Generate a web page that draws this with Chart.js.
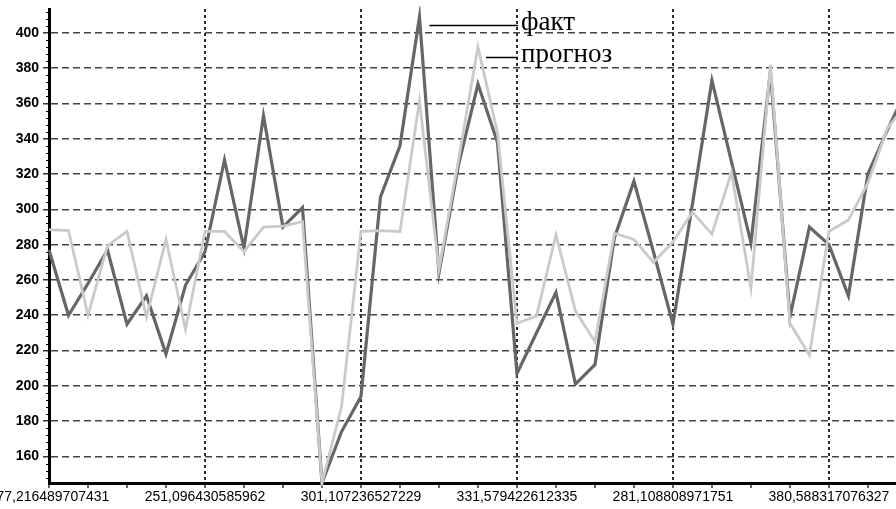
<!DOCTYPE html>
<html>
<head>
<meta charset="utf-8">
<script src="https://cdn.jsdelivr.net/npm/chart.js@4.4.1/dist/chart.umd.min.js"></script>
<style>
  html, body { margin: 0; padding: 0; background: #fff; }
  canvas { display: block; }
</style>
</head>
<body>
<canvas id="chart" width="896" height="509"></canvas>
<script>
// Observed values (факт) and model output (прогноз), one value per step
const fact = [
  277, 240, 258, 277, 235, 251, 218, 257, 276, 328,
  278, 353, 290, 301, 145, 174, 194, 307, 336, 409,
  264, 325, 371, 338, 207, 230, 253, 201, 212, 284,
  316, 276, 235, 303, 373, 327, 281, 378, 239, 290,
  280, 251, 320, 345, 368
];
const forecast = [
  288.5, 288, 240, 279.5, 287.5, 239, 283, 232, 287.5, 287.5,
  276, 290, 290.5, 293, 145, 188, 287.5, 288, 287.5, 361.5,
  266, 328, 392, 343.5, 235.5, 239.5, 285.5, 242.5, 225, 286.5,
  283, 270, 281.5, 298.5, 286, 321, 255.5, 382, 235.5, 217.5,
  287.5, 294, 315, 346, 360
];

const seriesNames = ['факт', 'прогноз'];
const yTicks = [160, 180, 200, 220, 240, 260, 280, 300, 320, 340, 360, 380, 400];
// x labels are printed at every 8th step
const labelEvery = 8;
const xTickLabels = [
  '277,216489707431', '251,096430585962', '301,107236527229',
  '331,579422612335', '281,108808971751', '380,588317076327'
];

const toPoints = arr => arr.map((v, i) => ({ x: i, y: v }));

// small unlabeled marks on the value axis
const minorTicks = {
  id: 'minorTicks',
  afterDraw(chart) {
    const ys = chart.scales.y;
    const c = chart.ctx;
    c.save();
    c.strokeStyle = '#000';
    c.lineWidth = 1;
    for (let v = 148; v <= 412; v += 4) {
      if (v % 20 === 0) continue;
      const py = Math.round(ys.getPixelForValue(v)) + 0.5;
      c.beginPath();
      c.moveTo(ys.right - 3, py);
      c.lineTo(ys.right, py);
      c.stroke();
    }
    c.restore();
  }
};

// series names with leader lines running from just below each series' highest peak
const peakLabels = {
  id: 'peakLabels',
  afterDraw(chart) {
    const xs = chart.scales.x, ys = chart.scales.y;
    const c = chart.ctx;
    const textX = xs.getPixelForValue(3 * labelEvery) + 4;
    const series = [fact, forecast];
    const gaps = [10, 8];
    const drops = [8, 10];
    c.save();
    c.font = '27px "Liberation Serif", "Times New Roman", serif';
    c.fillStyle = '#000';
    c.strokeStyle = '#000';
    c.lineWidth = 1.4;
    c.textBaseline = 'middle';
    series.forEach((arr, k) => {
      let peak = 0;
      arr.forEach((v, i) => { if (v > arr[peak]) peak = i; });
      const py = Math.round(ys.getPixelForValue(arr[peak]) + drops[k]) + 0.5;
      c.beginPath();
      c.moveTo(xs.getPixelForValue(peak) + gaps[k], py);
      c.lineTo(textX - 3, py);
      c.stroke();
      c.fillText(seriesNames[k], textX, py - 3);
    });
    c.restore();
  }
};

new Chart(document.getElementById('chart'), {
  type: 'line',
  data: {
    datasets: [
      {
        label: seriesNames[1],
        data: toPoints(forecast),
        borderColor: '#cacaca',
        borderWidth: 2.8,
        pointRadius: 0,
        tension: 0,
        clip: 3
      },
      {
        label: seriesNames[0],
        data: toPoints(fact),
        borderColor: '#666666',
        borderWidth: 3.2,
        pointRadius: 0,
        tension: 0,
        clip: 3
      }
    ]
  },
  options: {
    responsive: false,
    animation: false,
    devicePixelRatio: 1,
    layout: { padding: { top: 9, left: 0, right: 0, bottom: 0 } },
    plugins: { legend: { display: false }, tooltip: { enabled: false } },
    scales: {
      x: {
        type: 'linear',
        min: 0,
        max: 43.44,
        afterBuildTicks(scale) {
          const t = [];
          for (let v = 0; v <= 42; v += 2) t.push({ value: v });
          scale.ticks = t;
        },
        afterFit(scale) {
          scale.height = 26;
          scale.paddingLeft = 0;
          scale.paddingRight = 0;
        },
        ticks: {
          autoSkip: false,
          maxRotation: 0,
          minRotation: 0,
          padding: 1,
          color: '#000',
          font: { family: '"Liberation Sans", Arial, sans-serif', size: 14 },
          callback: v => (v % labelEvery === 0 ? xTickLabels[v / labelEvery] : '')
        },
        grid: {
          color: ctx => (ctx.tick && ctx.tick.value > 0 && ctx.tick.value % labelEvery === 0) ? '#2a2a2a' : 'rgba(0,0,0,0)',
          lineWidth: 2,
          drawTicks: true,
          tickLength: 5,
          tickColor: '#000',
          tickWidth: 1.2
        },
        border: { display: true, color: '#000', width: 3, dash: [3, 3] }
      },
      y: {
        type: 'linear',
        min: 145,
        max: 413.5,
        afterBuildTicks(scale) {
          scale.ticks = yTicks.map(v => ({ value: v }));
        },
        afterFit(scale) {
          scale.width = 49;
          scale.paddingTop = 0;
          scale.paddingBottom = 0;
        },
        ticks: {
          padding: 4,
          color: '#000',
          font: { family: '"Liberation Sans", Arial, sans-serif', size: 14, weight: 'bold' }
        },
        grid: {
          color: '#444444',
          lineWidth: 1.6,
          drawTicks: true,
          tickLength: 6,
          tickColor: '#000',
          tickWidth: 1.2
        },
        border: { display: true, color: '#000', width: 3, dash: [7, 4] }
      }
    }
  },
  plugins: [minorTicks, peakLabels]
});
</script>
</body>
</html>
